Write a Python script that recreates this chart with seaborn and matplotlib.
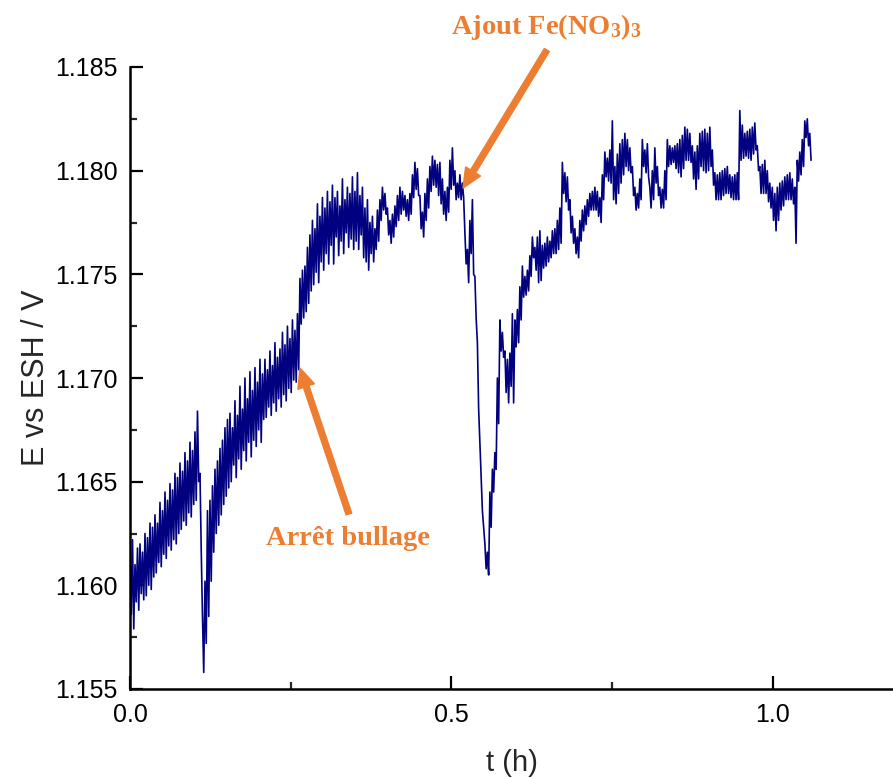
import numpy as np
import pandas as pd
import matplotlib
matplotlib.use("Agg")
import matplotlib.pyplot as plt
import seaborn as sns
from matplotlib.ticker import MultipleLocator, FormatStrFormatter

# ---------------- data (potential in mV vs ESH) ----------------
# Noisy record: successive local maxima and local minima of the trace.
E_hi_mV = [
    1161.4, 1162.2, 1161.0, 1161.8, 1162.0, 1161.6, 1162.5, 1162.3, 1163.0, 1162.8,
    1163.4, 1163.0, 1164.0, 1163.6, 1164.5, 1164.1, 1164.9, 1164.6, 1165.4, 1165.2,
    1165.9, 1165.5, 1166.4, 1166.0, 1166.9, 1166.5, 1167.4, 1168.4, 1165.4, 1158.5,
    1160.2, 1163.6, 1164.1, 1164.8, 1165.6, 1166.0, 1166.6, 1167.0, 1167.6, 1168.0,
    1168.3, 1167.6, 1168.9, 1168.2, 1169.6, 1168.5, 1170.0, 1169.0, 1170.3, 1169.4,
    1170.5, 1169.8, 1170.9, 1170.2, 1170.9, 1170.4, 1171.3, 1170.6, 1171.7, 1171.0,
    1171.4, 1172.2, 1171.6, 1172.5, 1171.9, 1172.8, 1172.3, 1173.1, 1174.8, 1175.2,
    1175.4, 1176.3, 1176.9, 1177.6, 1177.2, 1178.4, 1177.8, 1178.7, 1178.2, 1179.0,
    1178.5, 1179.3, 1178.7, 1179.0, 1178.3, 1179.6, 1178.6, 1179.2, 1178.9, 1179.7,
    1179.0, 1179.9, 1178.8, 1179.2, 1178.2, 1178.6, 1177.5, 1177.8, 1177.2, 1178.1,
    1178.6, 1179.2, 1178.9, 1178.2, 1177.6, 1177.9, 1178.3, 1178.8, 1179.2, 1179.0,
    1178.8, 1178.6, 1178.9, 1179.8, 1180.4, 1180.1, 1178.8, 1178.0, 1178.9, 1179.6,
    1180.2, 1180.7, 1180.5, 1180.3, 1180.4, 1179.6, 1179.0, 1179.2, 1180.5, 1181.1,
    1180.0, 1179.4, 1179.8, 1179.4, 1177.0, 1176.2, 1177.6, 1178.6, 1174.9, 1171.7,
    1166.9, 1163.6, 1162.0, 1161.6, 1164.5, 1165.6, 1166.4, 1170.0, 1172.8, 1172.2,
    1171.3, 1170.9, 1171.2, 1173.1, 1172.8, 1173.3, 1174.4, 1175.4, 1174.9, 1175.2,
    1175.9, 1176.8, 1176.3, 1176.8, 1177.1, 1176.4, 1176.5, 1176.8, 1176.6, 1177.1,
    1177.2, 1177.6, 1178.2, 1180.4, 1179.9, 1179.7, 1178.6, 1177.8, 1177.2, 1176.8,
    1177.6, 1178.1, 1178.3, 1178.6, 1178.9, 1179.0, 1179.2, 1179.0, 1178.7, 1179.8,
    1180.9, 1180.6, 1181.0, 1182.4, 1180.2, 1180.8, 1181.3, 1181.5, 1181.8, 1181.5,
    1181.1, 1180.2, 1179.2, 1178.9, 1179.6, 1181.5, 1181.0, 1181.3, 1179.2, 1180.0,
    1181.1, 1180.2, 1179.2, 1179.1, 1180.0, 1181.5, 1181.2, 1181.1, 1181.2, 1181.3,
    1181.5, 1181.7, 1182.1, 1182.0, 1181.8, 1181.2, 1180.9, 1181.2, 1181.8, 1181.9,
    1182.0, 1181.8, 1182.1, 1181.0, 1179.9, 1179.8, 1179.9, 1180.0, 1180.1, 1180.2,
    1179.8, 1179.7, 1179.8, 1179.9, 1182.9, 1182.2, 1181.8, 1181.9, 1182.0, 1182.1,
    1182.3, 1181.2, 1180.2, 1180.3, 1180.5, 1180.0, 1179.4, 1179.2, 1178.9, 1179.2,
    1179.4, 1179.5, 1179.7, 1179.8, 1179.9, 1179.6, 1179.2, 1180.5, 1180.9, 1181.5,
    1182.4, 1182.5, 1181.8,
]
E_lo_mV = [
    1158.6, 1157.9, 1159.2, 1158.8, 1159.6, 1159.3, 1159.5, 1160.0, 1159.8, 1160.4,
    1160.6, 1161.1, 1160.9, 1161.5, 1161.3, 1161.9, 1161.7, 1162.2, 1162.0, 1162.5,
    1162.7, 1163.1, 1162.9, 1163.5, 1163.3, 1163.9, 1164.1, 1165.0, 1161.7, 1155.8,
    1157.2, 1158.5, 1160.2, 1161.6, 1162.5, 1162.9, 1163.4, 1163.9, 1164.3, 1164.7,
    1165.0, 1165.8, 1165.2, 1166.1, 1165.6, 1166.5, 1166.0, 1166.9, 1166.2, 1167.0,
    1166.7, 1167.5, 1166.9, 1168.0, 1168.1, 1168.6, 1168.2, 1168.8, 1168.4, 1169.0,
    1168.6, 1169.2, 1168.9, 1169.5, 1169.3, 1169.9, 1169.8, 1170.4, 1172.6, 1172.9,
    1173.2, 1173.6, 1174.2, 1174.5, 1175.1, 1174.6, 1175.6, 1175.2, 1176.0, 1175.5,
    1176.4, 1175.5, 1176.8, 1175.9, 1176.6, 1176.0, 1177.0, 1176.3, 1176.7, 1176.2,
    1176.6, 1176.2, 1176.9, 1175.8, 1175.6, 1175.2, 1176.0, 1175.6, 1176.2, 1176.6,
    1177.6, 1178.1, 1177.9, 1176.9, 1176.5, 1176.8, 1177.3, 1177.6, 1177.9, 1178.1,
    1177.8, 1177.6, 1177.9, 1178.7, 1179.1, 1178.8, 1177.2, 1176.8, 1177.6, 1178.2,
    1179.0, 1179.3, 1179.2, 1178.8, 1178.4, 1177.9, 1177.6, 1178.0, 1179.1, 1179.3,
    1178.6, 1178.7, 1178.6, 1178.7, 1175.5, 1174.6, 1176.0, 1175.0, 1172.9, 1168.5,
    1165.2, 1162.8, 1160.8, 1160.5, 1162.8, 1164.5, 1165.6, 1167.8, 1171.3, 1171.0,
    1169.3, 1168.8, 1169.6, 1168.8, 1171.5, 1171.7, 1172.8, 1173.9, 1174.0, 1174.2,
    1174.9, 1175.8, 1175.2, 1174.6, 1174.7, 1175.3, 1175.4, 1175.6, 1175.8, 1176.0,
    1176.0, 1176.2, 1176.5, 1178.9, 1178.5, 1178.1, 1177.0, 1176.5, 1176.0, 1175.8,
    1176.6, 1177.1, 1177.4, 1177.8, 1178.1, 1178.1, 1178.1, 1177.8, 1177.5, 1178.6,
    1179.7, 1179.5, 1179.4, 1178.6, 1178.4, 1178.9, 1179.4, 1179.8, 1180.2, 1180.0,
    1179.9, 1178.8, 1178.1, 1178.2, 1178.6, 1180.2, 1179.9, 1179.7, 1178.2, 1178.6,
    1179.4, 1178.8, 1178.2, 1178.2, 1178.6, 1180.2, 1180.3, 1180.4, 1180.1, 1179.9,
    1179.7, 1180.1, 1180.5, 1180.5, 1180.4, 1179.6, 1179.1, 1179.6, 1180.2, 1180.0,
    1179.9, 1180.0, 1180.2, 1179.3, 1178.6, 1178.6, 1178.6, 1178.8, 1178.9, 1178.9,
    1178.7, 1178.6, 1178.6, 1178.6, 1180.5, 1180.6, 1180.7, 1180.6, 1180.5, 1180.8,
    1181.0, 1180.0, 1178.9, 1178.9, 1178.9, 1178.5, 1178.2, 1177.6, 1177.1, 1177.6,
    1178.1, 1178.3, 1178.6, 1178.6, 1178.6, 1178.4, 1176.5, 1179.5, 1179.8, 1180.2,
    1181.6, 1181.2, 1180.5,
]
t_end_h = 1.0595           # time of the last sample (h), uniform sampling
x_ticks = [0.0, 0.5, 1.0]
y_ticks = [1.155, 1.160, 1.165, 1.170, 1.175, 1.180, 1.185]
x_label = "t (h)"
y_label = "E vs ESH / V"
annot_texts = ["Ajout Fe(NO$_3$)$_3$", "Arrêt bullage"]

E_mV = np.column_stack([E_hi_mV, E_lo_mV]).ravel()
t_h = np.linspace(0.0, t_end_h, len(E_mV))
df = pd.DataFrame({"t": t_h, "E": E_mV / 1000.0})

# ---------------- style ----------------
sns.set_style("ticks")
plt.rcParams["font.family"] = ["Liberation Sans", "DejaVu Sans"]
plt.rcParams["mathtext.default"] = "regular"

LINE_COLOR = "#000080"
ORANGE = "#ED7D31"

fig = plt.figure(figsize=(8.93, 7.78), dpi=100)
ax = fig.add_axes([130 / 893, 89 / 778, 763 / 893, 622 / 778])

sns.lineplot(data=df, x="t", y="E", ax=ax, color=LINE_COLOR, lw=1.2,
             estimator=None, sort=False)

ax.set_xlim(0.0, 1.187)
ax.set_ylim(1.155, 1.185)
ax.set_xticks(x_ticks)
ax.set_yticks(y_ticks)
ax.xaxis.set_major_formatter(FormatStrFormatter("%.1f"))
ax.yaxis.set_major_formatter(FormatStrFormatter("%.3f"))
ax.xaxis.set_minor_locator(MultipleLocator(0.25))
ax.yaxis.set_minor_locator(MultipleLocator(0.0025))

for side in ["top", "right"]:
    ax.spines[side].set_visible(False)
for side in ["left", "bottom"]:
    ax.spines[side].set_linewidth(1.8)
    ax.spines[side].set_color("black")

ax.tick_params(axis="both", which="major", direction="in", length=9.5, width=1.6,
               labelsize=18, colors="black", pad=9)
ax.tick_params(axis="both", which="minor", direction="in", length=5, width=1.6)
ax.tick_params(axis="x", which="major", pad=10)

ax.set_xlabel(x_label, fontsize=21, labelpad=16)
ax.set_ylabel(y_label, fontsize=22, labelpad=3)

# annotations
arrow_kw = dict(color=ORANGE, width=4.2, headwidth=12.5, headlength=14, shrink=0.0)
ax.annotate("", xy=(0.518, 1.17916), xytext=(0.6485, 1.18582),
            arrowprops=arrow_kw, annotation_clip=False)
ax.annotate("", xy=(0.2644, 1.17048), xytext=(0.3406, 1.16344),
            arrowprops=arrow_kw, annotation_clip=False)

txt_kw = dict(color=ORANGE, fontsize=20.5, fontweight="bold",
              family=["Liberation Serif", "DejaVu Serif"], ha="center", va="center",
              clip_on=False)
ax.text(0.6485, 1.18693, annot_texts[0], **txt_kw)
ax.text(0.339, 1.16228, annot_texts[1], **txt_kw)

fig.savefig("out.png", dpi=100)
